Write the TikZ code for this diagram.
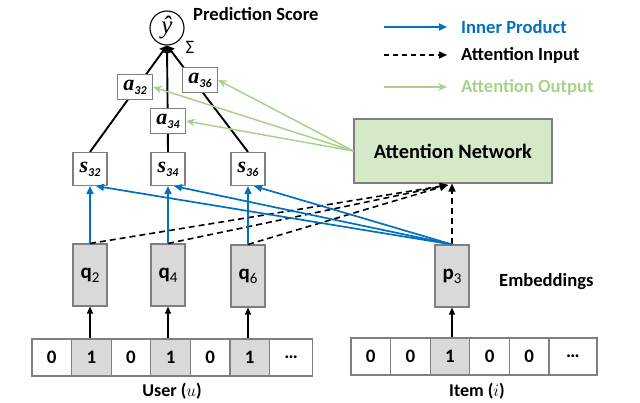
\documentclass[tikz,border=0pt]{standalone}
\usepackage{fontspec}
\setmainfont{Carlito}
\newfontfamily\serifbi{Liberation Serif}
\usetikzlibrary{arrows.meta,backgrounds}
\definecolor{ipblue}{HTML}{0070C0}
\definecolor{aogreen}{HTML}{A9D18E}
\definecolor{netgreen}{HTML}{D5E8C8}
\definecolor{cellgray}{HTML}{D9D9D9}
\definecolor{bordergray}{HTML}{7F7F7F}
\newcommand\albl[2]{{\fontsize{22}{22}\selectfont\serifbi\bfseries\itshape #1}\raisebox{-4pt}{\fontsize{12}{12}\selectfont\bfseries\itshape #2}}
\newcommand\qlbl[2]{{\fontsize{21}{21}\selectfont\bfseries #1}\raisebox{-4pt}{\fontsize{15}{15}\selectfont #2}}
\begin{document}
\begin{tikzpicture}[x=1pt,y=-1pt,
  boxbase/.style={draw=bordergray, line width=1.1pt, inner sep=0pt},
  sbox/.style={boxbase, fill=white, minimum width=34pt, minimum height=33pt},
  abox/.style={boxbase, fill=white, minimum width=35pt, minimum height=25pt},
  emb/.style={boxbase, fill=cellgray, minimum width=34pt, minimum height=62pt},
  cell/.style={boxbase, fill=white, minimum width=39.6pt, minimum height=37pt, font=\fontsize{19}{19}\selectfont\bfseries},
  gcell/.style={cell, fill=cellgray},
  lbl/.style={inner sep=0pt, font=\fontsize{18.6}{22}\selectfont\bfseries},
  blk/.style={line width=1.9pt, -{Triangle[length=7pt,width=8pt]}},
  upar/.style={line width=1.1pt, -{Triangle[length=7pt,width=6pt]}},
  ipar/.style={ipblue, line width=1.7pt, -{Triangle[length=8pt,width=7pt]}},
  aiar/.style={black, dashed, dash pattern=on 6pt off 4pt, line width=1.6pt, -{Triangle[length=8pt,width=7pt]}},
  aoar/.style={aogreen, line width=1.5pt, -{Stealth[length=9pt,width=8pt]}}
]
\useasboundingbox (0,0) rectangle (640,402);

% prediction
\node[circle, draw, line width=1.1pt, minimum size=34pt, inner sep=0pt, fill=white] (yhat) at (167,28) {\fontsize{25}{25}\selectfont\serifbi\itshape ŷ};
\node[lbl, anchor=west] (pred) at (193,14) {Prediction Score};
\node[inner sep=0pt, font=\fontsize{19}{19}\selectfont] (sigma) at (190,47) {Σ};

% s nodes
\node[sbox] (s32) at (90,169) {\albl{s}{32}};
\node[sbox] (s34) at (168,169) {\albl{s}{34}};
\node[sbox] (s36) at (248,169) {\albl{s}{36}};
% a nodes
\node[abox] (a32) at (135,87) {\albl{a}{32}};
\node[abox] (a34) at (168,121) {\albl{a}{34}};
\node[abox] (a36) at (200,80) {\albl{a}{36}};

\begin{scope}[on background layer]
\draw[blk] (s32.north) -- (yhat.south);
\draw[blk] (s34.north) -- (yhat.south);
\draw[blk] (s36.north) -- (yhat.south);
\end{scope}

% attention network
\node[boxbase, fill=netgreen, minimum width=198pt, minimum height=64pt, font=\fontsize{20.4}{20}\selectfont\bfseries] (att) at (453,151) {Attention Network};
\coordinate (attin) at (448,185);

% embeddings
\node[emb] (q2) at (90,275) {\qlbl{q}{2}};
\node[emb] (q4) at (168,275) {\qlbl{q}{4}};
\node[emb] (q6) at (248,276) {\qlbl{q}{6}};
\node[emb] (p3) at (452,276) {\qlbl{p}{3}};
\node[lbl, anchor=west] (embl) at (499,282) {Embeddings};

% one-hot user
\node[cell]  (u1) at (51.8,357.5) {0};
\node[gcell] (u2) at (91.4,357.5) {1};
\node[cell]  (u3) at (131.0,357.5) {0};
\node[gcell] (u4) at (170.6,357.5) {1};
\node[cell]  (u5) at (210.2,357.5) {0};
\node[gcell] (u6) at (249.8,357.5) {1};
\node[cell, minimum width=43pt] (u7) at (291.1,357.5) {…};
\node[lbl, font=\fontsize{18}{22}\selectfont\bfseries] (ulab) at (172,391) {User ($u$)};

% one-hot item
\node[cell]  (i1) at (370.8,356.5) {0};
\node[cell]  (i2) at (410.4,356.5) {0};
\node[gcell] (i3) at (450.0,356.5) {1};
\node[cell]  (i4) at (489.6,356.5) {0};
\node[cell]  (i5) at (529.2,356.5) {0};
\node[cell, minimum width=48pt] (i6) at (573.0,356.5) {…};
\node[lbl, font=\fontsize{18}{22}\selectfont\bfseries] (ilab) at (477,391) {Item ($i$)};

% input arrows
\draw[upar] (q2.south |- u2.north) -- (q2.south);
\draw[upar] (q4.south |- u4.north) -- (q4.south);
\draw[upar] (q6.south |- u6.north) -- (q6.south);
\draw[upar] (p3.south |- i3.north) -- (p3.south);

% attention input (dashed)
\draw[aiar] (q2.north) -- (attin);
\draw[aiar] (q4.north) -- (attin);
\draw[aiar] (q6.north) -- (attin);
\draw[aiar] (p3.north) -- (p3.north |- att.south);

% inner products
\draw[ipar] (q2.north) -- (s32.south);
\draw[ipar] (q4.north) -- (s34.south);
\draw[ipar] (q6.north) -- (s36.south);
\draw[ipar] (p3.north) -- ([xshift=6pt]s32.south);
\draw[ipar] (p3.north) -- ([xshift=6pt]s34.south);
\draw[ipar] (p3.north) -- ([xshift=6pt]s36.south);

% attention output
\draw[aoar] (att.west) -- (a32.east);
\draw[aoar] (att.west) -- (a34.east);
\draw[aoar] (att.west) -- (a36.east);

% legend
\coordinate (l1a) at (384,27); \coordinate (l1b) at (447,27);
\coordinate (l2a) at (384,55); \coordinate (l2b) at (447,55);
\coordinate (l3a) at (384,87); \coordinate (l3b) at (447,87);
\draw[ipar] (l1a) -- (l1b);
\draw[aiar, dash pattern=on 5pt off 4pt] (l2a) -- (l2b);
\draw[aoar] (l3a) -- (l3b);
\node[lbl, anchor=west, text=ipblue] (leg1) at (461,27) {Inner Product};
\node[lbl, anchor=west] (leg2) at (461,55) {Attention Input};
\node[lbl, anchor=west, text=aogreen] (leg3) at (461,87) {Attention Output};
\end{tikzpicture}
\end{document}
